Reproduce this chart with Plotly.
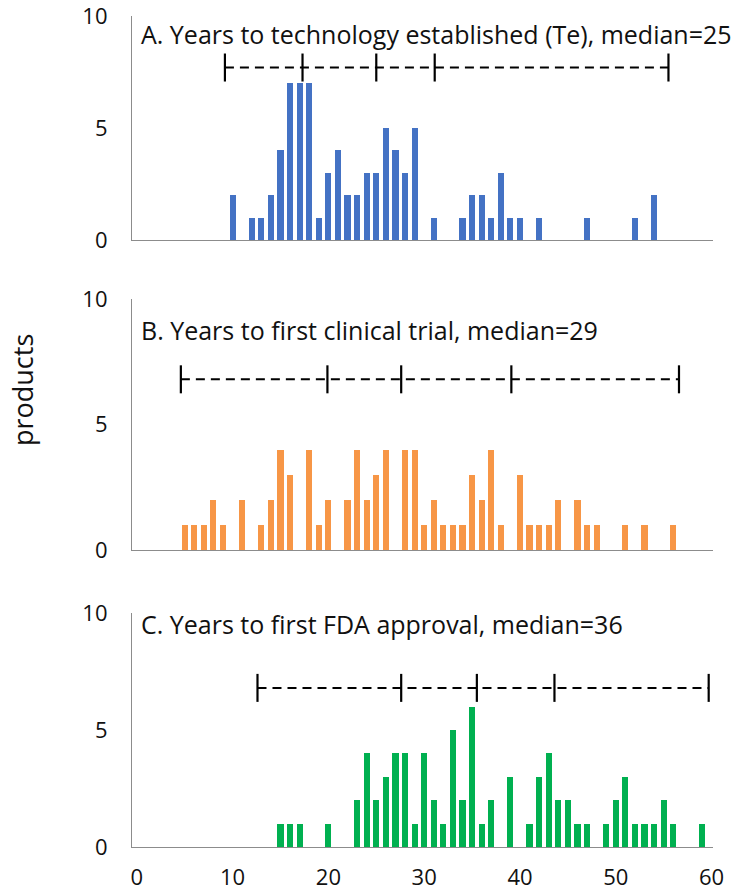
import plotly.graph_objects as go

# ---------------- data ----------------
years_A = [10, 12, 13, 14, 15, 16, 17, 18, 19, 20, 21, 22, 23, 24, 25, 26, 27, 28, 29, 31,
           34, 35, 36, 37, 38, 39, 40, 42, 47, 52, 54]
counts_A = [2, 1, 1, 2, 4, 7, 7, 7, 1, 3, 4, 2, 2, 3, 3, 5, 4, 3, 5, 1,
            1, 2, 2, 1, 3, 1, 1, 1, 1, 1, 2]

years_B = [5, 6, 7, 8, 9, 11, 13, 14, 15, 16, 18, 19, 20, 22, 23, 24, 25, 26, 28, 29, 30, 31,
           32, 33, 34, 35, 36, 37, 38, 40, 41, 42, 43, 44, 46, 47, 48, 51, 53, 56]
counts_B = [1, 1, 1, 2, 1, 2, 1, 2, 4, 3, 4, 1, 2, 2, 4, 2, 3, 4, 4, 4, 1, 2,
            1, 1, 1, 3, 2, 4, 1, 3, 1, 1, 1, 2, 2, 1, 1, 1, 1, 1]

years_C = [15, 16, 17, 20, 23, 24, 25, 26, 27, 28, 29, 30, 31, 32, 33, 34, 35, 36, 37, 39,
           41, 42, 43, 44, 45, 46, 47, 49, 50, 51, 52, 53, 54, 55, 56, 59]
counts_C = [1, 1, 1, 1, 2, 4, 2, 3, 4, 4, 1, 4, 2, 1, 5, 2, 6, 1, 2, 3,
            1, 3, 4, 2, 2, 1, 1, 1, 2, 3, 1, 1, 1, 2, 1, 1]

# range markers: min, Q1, median, Q3, max (years) and their height (products)
range_A = [9.2, 17.3, 25.0, 31.1, 55.5]
range_B = [4.6, 19.9, 27.6, 39.1, 56.6]
range_C = [12.6, 27.6, 35.5, 43.6, 59.7]
range_y = [7.7, 6.8, 6.8]

titles = ["A. Years to technology established (Te), median=25",
          "B. Years to first clinical trial, median=29",
          "C. Years to first FDA approval, median=36"]
colors = ["#4472C4", "#F79646", "#00B050"]
x_ticks = [0, 10, 20, 30, 40, 50, 60]
y_ticks = [0, 5, 10]

# ---------------- figure ----------------
W, H = 750, 890
# plot area in pixels: x 132..713, y 10..847
ML, MR, MT, MB = 132, 750 - 713, 10, 890 - 847
PH = H - MT - MB
PW = W - ML - MR


def fy(py):  # pixel -> paper fraction
    return 1 - (py - MT) / PH


def fx(px):
    return (px - ML) / PW


domains = [[fy(240), fy(16)], [fy(550), fy(299)], [fy(847), fy(613)]]
title_y = [34, 330, 624]

FONT = "Open Sans, Calibri, sans-serif"

fig = go.Figure()
series = [(years_A, counts_A, range_A), (years_B, counts_B, range_B), (years_C, counts_C, range_C)]

for i, (yrs, cnt, rng) in enumerate(series):
    xa = "x" if i == 0 else f"x{i+1}"
    ya = "y" if i == 0 else f"y{i+1}"
    fig.add_trace(go.Bar(x=yrs, y=cnt, width=0.64, marker=dict(color=colors[i], line=dict(width=0)),
                         xaxis=xa, yaxis=ya, showlegend=False))
    fig.add_trace(go.Scatter(x=[rng[0], rng[-1]], y=[range_y[i]] * 2, mode="lines",
                             line=dict(color="black", width=2, dash="9px,6px"),
                             xaxis=xa, yaxis=ya, showlegend=False))
    fig.add_trace(go.Scatter(x=rng, y=[range_y[i]] * len(rng), mode="markers",
                             marker=dict(symbol="line-ns", size=20, line=dict(color="black", width=2.2)),
                             xaxis=xa, yaxis=ya, showlegend=False))

axis_common = dict(showgrid=False, zeroline=False, showline=True, linecolor="#8c8c8c", linewidth=1.2,
                   ticks="", automargin=False, ticklabeloverflow="allow",
                   tickfont=dict(family=FONT, size=22, color="#111111"))

layout = dict(width=W, height=H, margin=dict(l=ML, r=MR, t=MT, b=MB, autoexpand=False),
              plot_bgcolor="white", paper_bgcolor="white", bargap=0, showlegend=False)

for i in range(3):
    xk = "xaxis" if i == 0 else f"xaxis{i+1}"
    yk = "yaxis" if i == 0 else f"yaxis{i+1}"
    yref = "y" if i == 0 else f"y{i+1}"
    xref = "x" if i == 0 else f"x{i+1}"
    layout[xk] = dict(axis_common, range=[-0.5, 60.15], domain=[0, 1], anchor=yref,
                      tickvals=x_ticks, showticklabels=(i == 2), ticklabelstandoff=10)
    layout[yk] = dict(axis_common, range=[0, 10], domain=domains[i], anchor=xref,
                      tickvals=y_ticks, ticklabelstandoff=19)

fig.update_layout(**layout)

for i in range(3):
    fig.add_annotation(text=titles[i], xref="paper", yref="paper", x=fx(139), y=fy(title_y[i]),
                       xanchor="left", yanchor="middle", showarrow=False,
                       font=dict(family=FONT, size=25, color="#111111"))

fig.add_annotation(text="products", xref="paper", yref="paper", x=fx(23), y=fy(390),
                   xanchor="center", yanchor="middle", textangle=-90, showarrow=False,
                   font=dict(family=FONT, size=27, color="#111111"))

fig.write_html("out.html", config={"displayModeBar": False},
               post_script="document.body.style.margin='0';")
